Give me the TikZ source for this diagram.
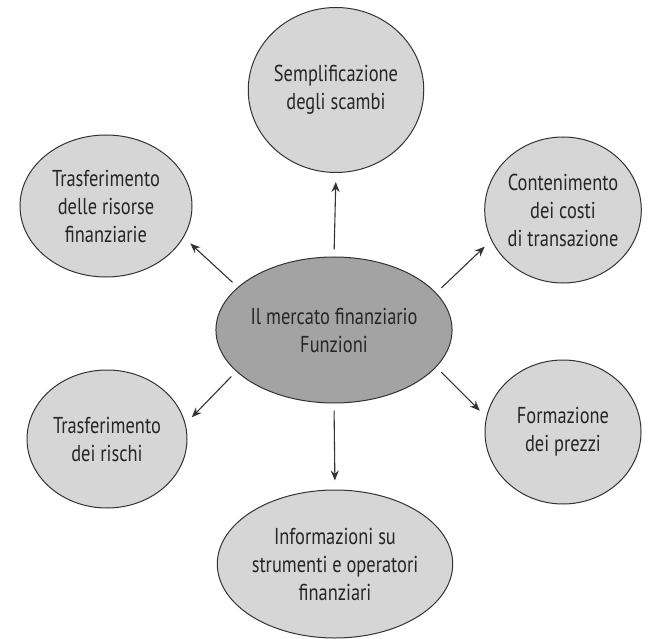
\documentclass[tikz,border=0pt]{standalone}
\usepackage{fontspec}
\setmainfont{PT Sans}[FakeStretch=0.8]
\usetikzlibrary{shapes.geometric,arrows.meta}
\begin{document}
\begin{tikzpicture}[x=1pt,y=-1pt,
    every node/.style={align=center, text=black!85, font=\fontsize{23}{28}\selectfont},
    topic/.style={draw=black!80, fill=black!16, ellipse, inner sep=0pt, line width=1pt},
    hub/.style={topic, fill=black!36},
    arrow/.style={draw=black!80, line width=1.1pt, -{Stealth[length=10pt,width=8pt]}, shorten <=7pt, shorten >=9pt},
    ]
\useasboundingbox (0,0) rectangle (648,639);
\node[hub, minimum width=220pt, minimum height=146pt] (C) at (334,330) {Il mercato finanziario\\Funzioni};
\node[topic, minimum width=142pt, minimum height=165pt] (T) at (336,90) {Semplificazione\\degli scambi};
\node[topic, minimum width=172pt, minimum height=142pt] (TL) at (106,206) {Trasferimento\\delle risorse\\finanziarie};
\node[topic, minimum width=156pt, minimum height=146pt] (TR) at (563,210) {Contenimento\\dei costi\\di transazione};
\node[topic, minimum width=160pt, minimum height=138pt] (BL) at (107,439) {Trasferimento\\dei rischi};
\node[topic, minimum width=156pt, minimum height=144pt] (BR) at (563,432) {Formazione\\dei prezzi};
\node[topic, minimum width=172pt, minimum height=148pt] (B) at (335,564) {Informazioni su\\strumenti e operatori\\finanziari};
\draw[arrow] (C.90) -- (T.-90);
\draw[arrow] (C.156) -- (TL.-22);
\draw[arrow] (C.20) -- (TR.-157);
\draw[arrow] (C.-157) -- (BL.11);
\draw[arrow] (C.-20) -- (BR.169);
\draw[arrow] (C.-90) -- (B.90);
\end{tikzpicture}
\end{document}
